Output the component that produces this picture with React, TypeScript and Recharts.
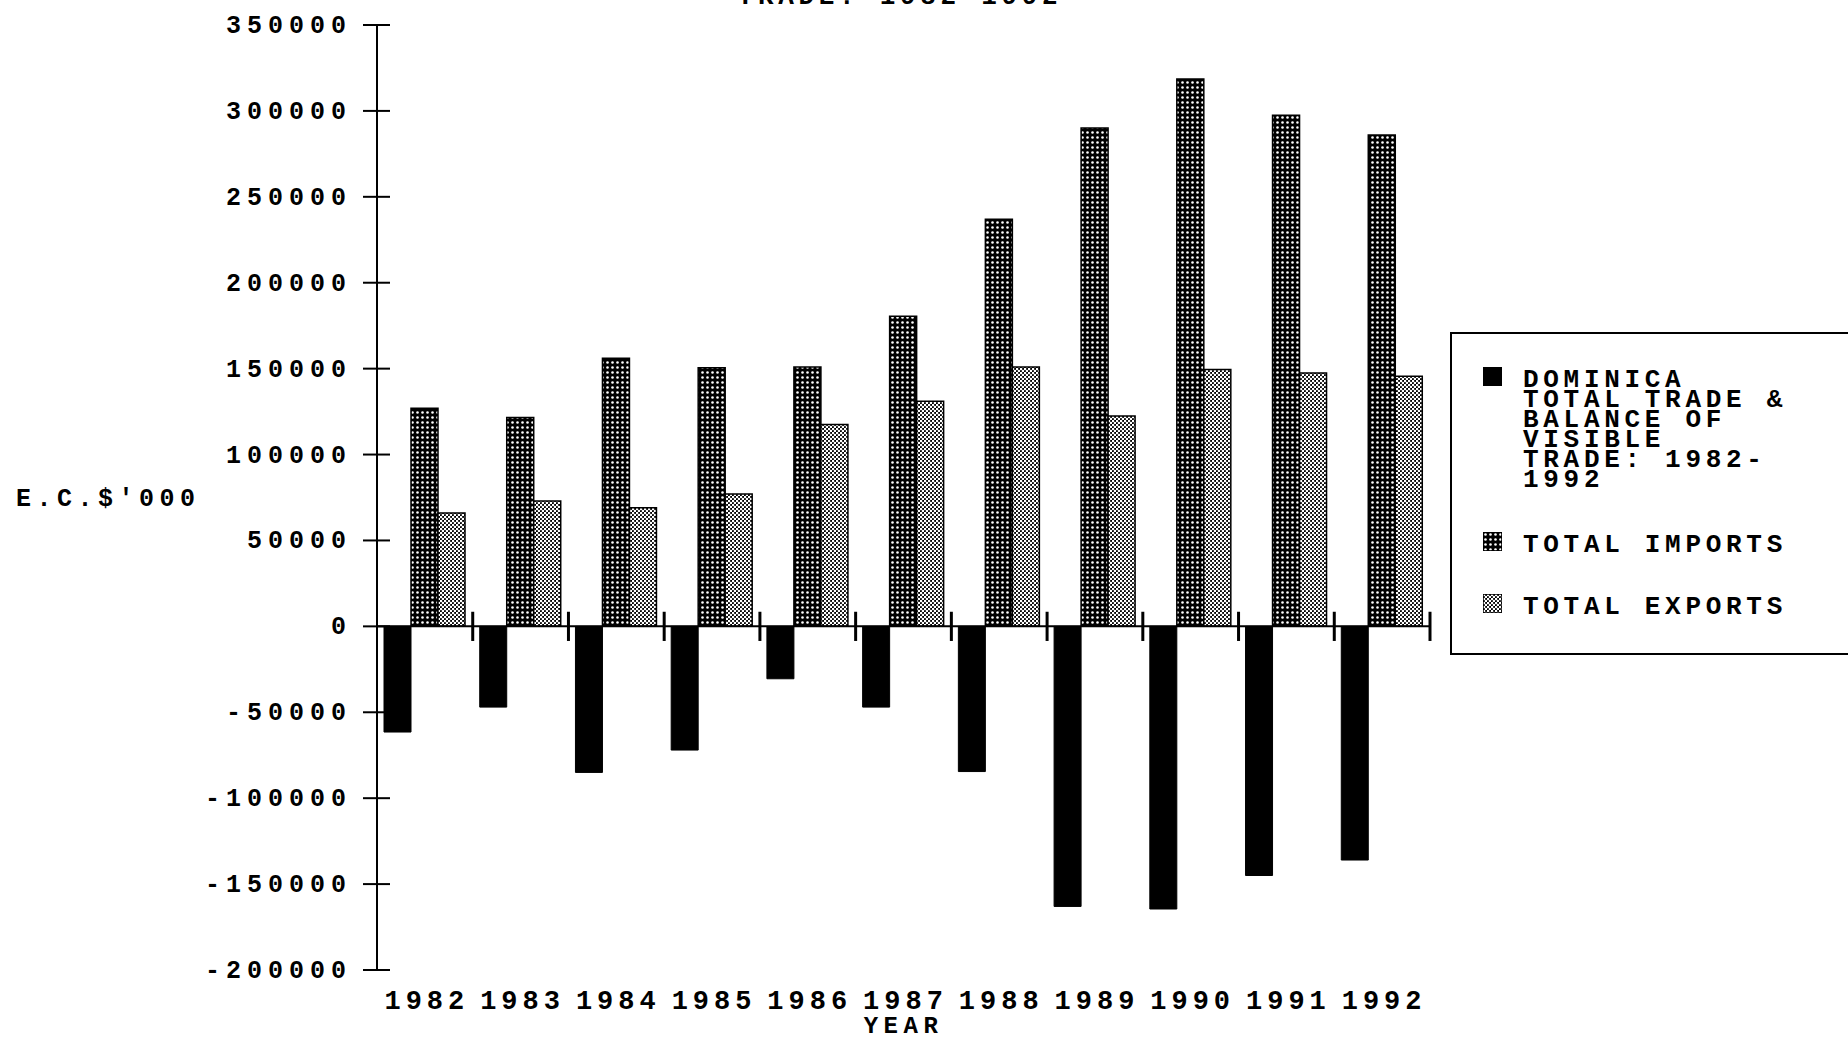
import React from 'react';
import { BarChart, Bar, XAxis, YAxis, ReferenceLine, Legend, Label } from 'recharts';

const years = ['1982', '1983', '1984', '1985', '1986', '1987', '1988', '1989', '1990', '1991', '1992'];
const balance = [-61500, -47000, -85000, -72000, -30500, -47000, -84500, -163000, -164500, -145000, -136000];
const imports = [127000, 121500, 156000, 150500, 151000, 180500, 237000, 290000, 318500, 297500, 286000];
const exportsV = [66000, 73000, 69000, 77000, 117500, 131000, 151000, 122500, 149500, 147500, 145500];
const yTicks = [-200000, -150000, -100000, -50000, 0, 50000, 100000, 150000, 200000, 250000, 300000, 350000];
const seriesNames = ['DOMINICA TOTAL TRADE & BALANCE OF VISIBLE TRADE: 1982-1992', 'TOTAL IMPORTS', 'TOTAL EXPORTS'];
const titleText = 'TRADE: 1982-1992';
const yLabel = "E.C.$'000";
const xLabel = 'YEAR';

const data = years.map((y, i) => ({ year: y, balance: balance[i], imports: imports[i], exports: exportsV[i] }));

const FONT = '"Liberation Mono", "DejaVu Sans Mono", monospace';

const YTick = (props: any) => {
  const { x, y, payload } = props;
  return (
    <g>
      <line x1={x - 14} x2={x + 13} y1={y} y2={y} stroke="#000" strokeWidth={2} />
      <text x={x - 25} y={y} dy={8} textAnchor="end" fontFamily={FONT} fontWeight="bold" fontSize={25} letterSpacing={6} fill="#000">
        {payload.value}
      </text>
    </g>
  );
};

const XTick = (props: any) => {
  const { x, y, payload } = props;
  return (
    <text x={x + 2} y={y} dy={39} textAnchor="middle" fontFamily={FONT} fontWeight="bold" fontSize={27} letterSpacing={5} fill="#000">
      {payload.value}
    </text>
  );
};

const patIds = ['', 'url(#impPat)', 'url(#expPat)'];

const LegendBox = () => (
  <div style={{ position: 'relative', width: 420, height: 319, border: '2px solid #000', boxSizing: 'content-box', background: '#fff', fontFamily: FONT, fontWeight: 'bold', fontSize: 26, letterSpacing: '4.7px', lineHeight: '20px', color: '#000', textAlign: 'left' }}>
    {seriesNames.map((n, i) => {
      const tops = [33, 198, 260];
      return (
        <React.Fragment key={n}>
          <svg style={{ position: 'absolute', left: 31, top: tops[i] }} width={19} height={19}>
            <rect x={0} y={0} width={19} height={19} fill={i === 0 ? '#000' : patIds[i]} stroke="#000" strokeWidth={1.5} />
          </svg>
          <div style={{ position: 'absolute', left: 71, top: tops[i] + 3, width: 275, whiteSpace: 'normal' }}>{n}</div>
        </React.Fragment>
      );
    })}
  </div>
);

export default function App() {
  return (
    <div style={{ position: 'absolute', left: 0, top: 0, width: 1848, height: 1038, overflow: 'hidden', background: '#fff' }}>
      <svg width={0} height={0} style={{ position: 'absolute' }}>
        <defs>
          <pattern id="impPat" patternUnits="userSpaceOnUse" width={5} height={5}>
            <rect width={5} height={5} fill="#000" />
            <circle cx={2.5} cy={2.5} r={1.3} fill="#fff" />
          </pattern>
          <pattern id="expPat" patternUnits="userSpaceOnUse" width={4} height={4}>
            <rect width={4} height={4} fill="#000" />
            <circle cx={1} cy={1} r={1.3} fill="#fff" />
            <circle cx={3} cy={3} r={1.3} fill="#fff" />
          </pattern>
        </defs>
      </svg>
      <div style={{ position: 'absolute', left: 0, width: 1800, top: -16, textAlign: 'center', fontFamily: FONT, fontWeight: 'bold', fontSize: 26, lineHeight: '26px', letterSpacing: '4.7px' }}>
        {titleText}
      </div>
      <BarChart width={1848} height={1038} data={data} margin={{ top: 25, right: 418, bottom: 0, left: 0 }} barCategoryGap={7} barGap={0}>
        <XAxis dataKey="year" height={68} axisLine={false} tickLine={false} tickSize={0} tickMargin={0} tick={<XTick />} interval={0}>
          <Label value={xLabel} position="insideBottom" offset={5} style={{ fontFamily: FONT, fontWeight: 'bold', fontSize: 24, letterSpacing: '5.5px', fill: '#000' }} />
        </XAxis>
        <YAxis width={377} domain={[-200000, 350000]} ticks={yTicks} interval={0} axisLine={{ stroke: '#000', strokeWidth: 2 }} tickLine={false} tickSize={0} tickMargin={0} tick={<YTick />}>
          <Label value={yLabel} position="insideLeft" offset={16} style={{ fontFamily: FONT, fontWeight: 'bold', fontSize: 25, letterSpacing: '5.5px', fill: '#000', textAnchor: 'start' }} />
        </YAxis>
        <Legend layout="horizontal" verticalAlign="middle" align="center" content={<LegendBox />} wrapperStyle={{ position: 'absolute', left: 1450, top: 332, width: 424, height: 323 }} />
        <Bar dataKey="balance" name={seriesNames[0]} fill="#000" stroke="#000" isAnimationActive={false} />
        <Bar dataKey="imports" name={seriesNames[1]} fill="url(#impPat)" stroke="#000" strokeWidth={1.5} isAnimationActive={false} />
        <Bar dataKey="exports" name={seriesNames[2]} fill="url(#expPat)" stroke="#000" strokeWidth={1.5} isAnimationActive={false} />
        <ReferenceLine y={0} stroke="#000" strokeWidth={2} />
        {years.map((yr) => (
          <ReferenceLine key={yr} position="end" ifOverflow="visible" segment={[{ x: yr, y: -8500 }, { x: yr, y: 8500 }]} stroke="#000" strokeWidth={3} />
        ))}
      </BarChart>
    </div>
  );
}
